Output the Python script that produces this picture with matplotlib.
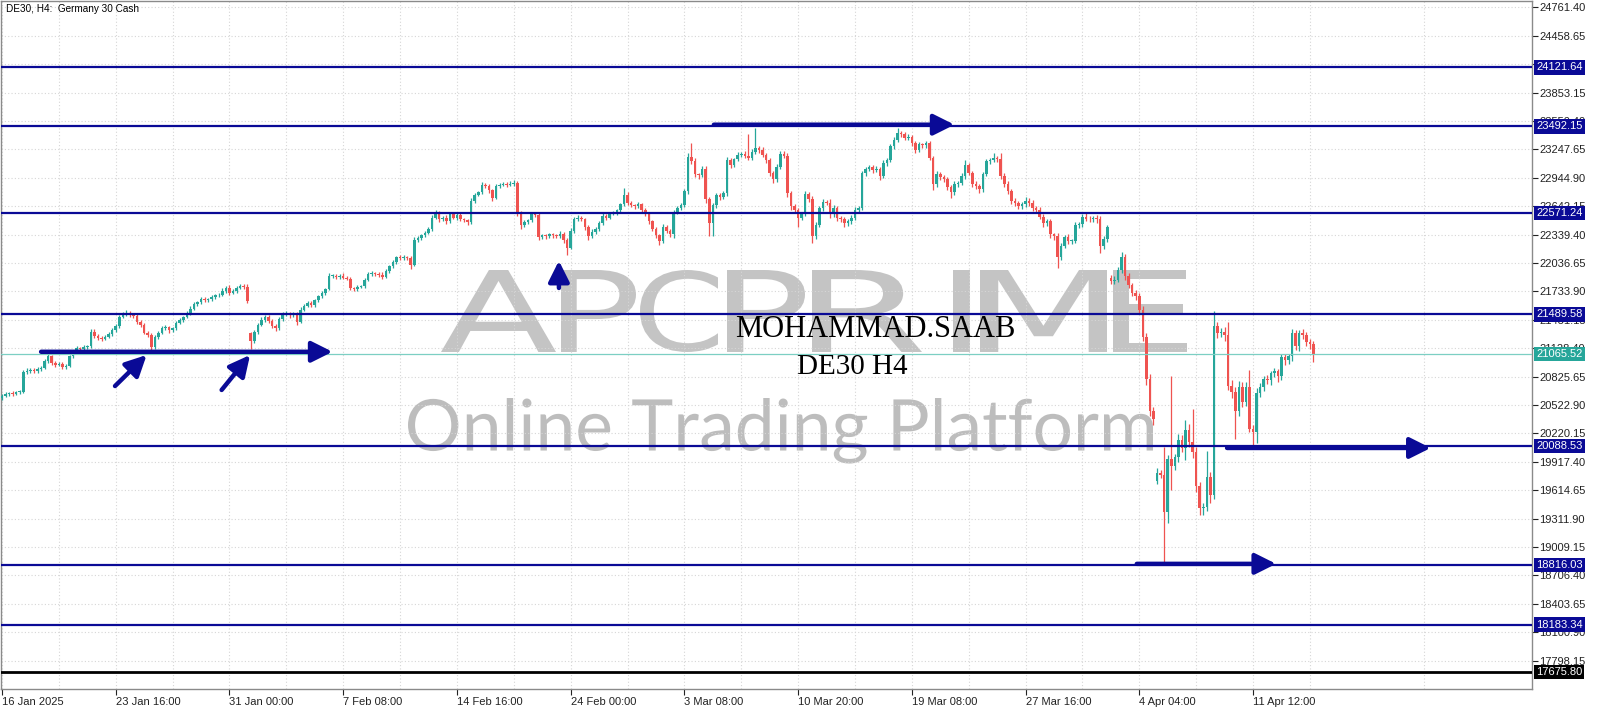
"""
DE30 H4 candle chart with support / resistance levels.
"""
import numpy as np
import matplotlib.pyplot as plt
from matplotlib.font_manager import FontProperties
from matplotlib.patches import PathPatch
from matplotlib.textpath import TextPath
from matplotlib.transforms import Affine2D, blended_transform_factory

# ---- values (H4 bars, 16 Jan - 16 Apr 2025) ----
first_open = 20600
closes = [
    20620, 20640, 20650, 20640, 20660, 20665, 20870, 20890, 20900, 20880,
    20910, 20920, 20990, 21040, 20975, 20950, 20960, 20930, 20940, 21040,
    21080, 21130, 21120, 21140, 21150, 21305, 21260, 21240, 21230, 21250,
    21280, 21320, 21360, 21460, 21490, 21500, 21490, 21470, 21410, 21380,
    21295, 21270, 21140, 21250, 21290, 21340, 21350, 21320, 21340, 21400,
    21430, 21460, 21500, 21550, 21600, 21620, 21650, 21640, 21650, 21670,
    21690, 21700, 21740, 21770, 21720, 21740, 21770, 21790, 21780, 21630,
    21200, 21300, 21380, 21430, 21460, 21420, 21370, 21340, 21440, 21490,
    21500, 21480, 21490, 21410, 21540, 21580, 21610, 21590, 21640, 21680,
    21720, 21760, 21900, 21900, 21890, 21900, 21880, 21870, 21770, 21760,
    21780, 21790, 21860, 21920, 21930, 21920, 21910, 21890, 21950, 22000,
    22050, 22100, 22090, 22100, 22090, 22020, 22280, 22300, 22330, 22360,
    22400, 22520, 22570, 22500, 22520, 22480, 22560, 22520, 22550, 22500,
    22490, 22470, 22700, 22760, 22790, 22870, 22860, 22810, 22730, 22860,
    22870, 22880, 22870, 22880, 22890, 22570, 22440, 22470, 22490, 22560,
    22550, 22310, 22330, 22320, 22340, 22330, 22320, 22350, 22280, 22200,
    22380, 22510, 22520, 22500, 22420, 22320, 22370, 22400, 22460, 22540,
    22520, 22560, 22570, 22600, 22660, 22760, 22680, 22650, 22640, 22660,
    22600, 22560, 22480, 22400, 22330, 22270, 22420, 22380, 22340, 22580,
    22620, 22650, 22800, 23170, 23120, 22980, 22970, 23040, 22720, 22460,
    22650, 22760, 22740, 22780, 23130, 23080, 23140, 23190, 23200, 23180,
    23160, 23220, 23260, 23240, 23190, 23130, 23000, 22930, 23060, 23200,
    23180, 22780, 22640, 22600, 22520, 22560, 22770, 22720, 22320, 22440,
    22620, 22690, 22680, 22560, 22620, 22520, 22500, 22460, 22480, 22520,
    22600, 22620, 22990, 23040, 23060, 23030, 23040, 22960, 23100, 23130,
    23280, 23350, 23420, 23410, 23370, 23380, 23310, 23240, 23300, 23290,
    23310, 23160, 22880, 22980, 22950, 22930, 22850, 22790, 22880, 22890,
    22960, 23080, 23000, 22880, 22860, 22820, 22980, 23120, 23130, 23150,
    23140, 22960, 22880, 22800, 22700, 22680, 22640, 22660, 22700, 22680,
    22620, 22600, 22530, 22460, 22480, 22340, 22320, 22100, 22220, 22310,
    22270, 22270, 22440, 22450, 22530, 22510, 22500, 22520, 22500, 22220,
    22290, 22420, 21840, 21860, 21960, 22100, 21900, 21800, 21720, 21680,
    21540, 21250, 20800, 20460, 20370, 19800, 19780, 19380, 19950, 19870,
    19965, 20155, 20060, 20260, 20130, 20020, 19660, 19420, 19440, 19760,
    19560, 21360, 21290, 21300, 21270, 20730, 20660, 20460, 20720, 20560,
    20720, 20270, 20240, 20650, 20720, 20800, 20790, 20860, 20880, 20830,
    21030, 21000, 21040, 21290, 21150, 21290, 21270, 21190, 21170, 21066,
]
# bars that opened away from the previous close (weekend gaps)
gap_opens = {70: 21290, 312: 21880, 325: 19710}
# wick lengths above / below the body, in points
wick_up = [
    20, 25, 15, 20, 15, 20, 30, 25, 20, 15,
    20, 15, 25, 30, 20, 15, 20, 25, 15, 20,
    25, 20, 15, 20, 15, 30, 25, 20, 15, 20,
    20, 25, 30, 20, 25, 30, 20, 15, 25, 20,
    20, 15, 25, 20, 25, 20, 25, 20, 15, 20,
    20, 15, 20, 25, 20, 15, 20, 25, 15, 20,
    20, 15, 25, 20, 30, 15, 20, 25, 20, 30,
    10, 25, 20, 30, 20, 25, 20, 15, 25, 20,
    20, 15, 25, 20, 30, 20, 25, 20, 15, 20,
    20, 15, 30, 20, 15, 20, 25, 20, 20, 15,
    20, 15, 20, 25, 20, 15, 20, 25, 20, 20,
    20, 15, 25, 20, 15, 25, 30, 20, 15, 20,
    20, 25, 30, 20, 15, 25, 20, 20, 15, 20,
    20, 15, 30, 20, 15, 25, 20, 20, 15, 20,
    20, 15, 20, 25, 35, 20, 25, 20, 15, 20,
    20, 25, 20, 15, 20, 15, 20, 25, 20, 20,
    25, 20, 30, 20, 15, 20, 25, 20, 20, 25,
    20, 25, 20, 15, 20, 80, 30, 20, 15, 25,
    20, 25, 20, 15, 20, 20, 30, 25, 20, 25,
    20, 25, 30, 40, 145, 30, 20, 25, 30, 20,
    30, 25, 20, 25, 40, 30, 20, 25, 20, 30,
    235, 30, 215, 25, 30, 20, 25, 20, 30, 25,
    30, 25, 20, 25, 20, 25, 30, 20, 25, 30,
    25, 30, 20, 40, 30, 25, 20, 30, 20, 25,
    30, 25, 30, 20, 25, 20, 25, 20, 30, 25,
    25, 30, 57, 20, 25, 30, 20, 25, 30, 20,
    25, 30, 20, 35, 25, 20, 25, 20, 30, 25,
    30, 55, 25, 20, 25, 20, 30, 25, 20, 60,
    25, 70, 30, 25, 20, 25, 20, 30, 40, 25,
    25, 20, 30, 25, 30, 25, 20, 35, 30, 25,
    30, 25, 30, 20, 25, 40, 25, 20, 30, 40,
    30, 25, 30, 40, 30, 50, 35, 30, 25, 30,
    35, 40, 45, 50, 40, 50, 30, 300, 40, 880,
    40, 60, 50, 100, 60, 345, 50, 40, 40, 270,
    50, 160, 50, 40, 50, 140, 60, 50, 60, 50,
    50, 180, 40, 50, 40, 35, 40, 30, 40, 30,
    40, 35, 30, 40, 35, 30, 40, 30, 35, 30,
]
wick_dn = [
    20, 15, 20, 25, 15, 20, 15, 20, 25, 15,
    15, 20, 15, 20, 25, 20, 15, 25, 20, 15,
    20, 15, 25, 15, 20, 15, 20, 25, 20, 15,
    15, 20, 15, 20, 15, 20, 25, 20, 20, 25,
    20, 25, 30, 15, 20, 15, 20, 25, 20, 15,
    15, 20, 15, 20, 15, 20, 20, 15, 20, 15,
    15, 20, 15, 20, 20, 15, 20, 15, 20, 25,
    85, 15, 20, 15, 20, 20, 25, 30, 15, 20,
    20, 25, 20, 30, 15, 20, 15, 25, 20, 15,
    15, 20, 15, 20, 25, 20, 15, 20, 25, 20,
    20, 15, 20, 15, 20, 25, 20, 25, 15, 20,
    15, 20, 25, 20, 20, 50, 15, 20, 20, 15,
    15, 20, 15, 25, 20, 25, 15, 20, 25, 20,
    20, 25, 15, 20, 15, 20, 20, 25, 30, 15,
    20, 15, 20, 15, 20, 30, 40, 20, 15, 20,
    20, 30, 20, 25, 20, 25, 20, 15, 30, 75,
    15, 20, 25, 20, 30, 35, 20, 25, 20, 15,
    25, 20, 15, 20, 15, 20, 25, 20, 25, 20,
    20, 25, 30, 25, 30, 40, 20, 25, 30, 35,
    20, 15, 20, 30, 25, 30, 40, 20, 40, 140,
    140, 25, 30, 20, 25, 30, 20, 20, 25, 20,
    30, 25, 20, 30, 25, 30, 35, 40, 30, 20,
    30, 40, 35, 30, 96, 30, 25, 30, 67, 30,
    25, 30, 25, 40, 30, 35, 30, 40, 30, 25,
    30, 35, 20, 25, 20, 30, 25, 40, 20, 25,
    20, 25, 20, 30, 25, 20, 30, 35, 25, 30,
    25, 30, 63, 30, 25, 30, 35, 57, 25, 30,
    25, 30, 25, 35, 30, 40, 25, 20, 25, 20,
    25, 30, 35, 30, 40, 35, 30, 25, 30, 35,
    30, 35, 30, 40, 30, 35, 40, 113, 30, 25,
    35, 30, 25, 30, 25, 30, 25, 30, 35, 73,
    30, 25, 30, 25, 30, 35, 40, 35, 40, 35,
    40, 50, 60, 55, 60, 30, 40, 550, 110, 250,
    40, 50, 40, 120, 50, 60, 60, 70, 70, 50,
    80, 40, 50, 40, 60, 50, 60, 300, 50, 60,
    50, 40, 140, 120, 40, 50, 40, 50, 40, 60,
    40, 50, 40, 50, 40, 50, 40, 40, 50, 90,
]

levels = [24121.64, 23492.15, 22571.24, 21489.58, 20088.53, 18816.03, 18183.34]
current_price = 21065.52
floor_level = 17675.80

ytick_values = [24761.40, 24458.65, 24155.90, 23853.15, 23550.40, 23247.65,
                22944.90, 22642.15, 22339.40, 22036.65, 21733.90, 21431.15,
                21128.40, 20825.65, 20522.90, 20220.15, 19917.40, 19614.65,
                19311.90, 19009.15, 18706.40, 18403.65, 18100.90, 17798.15]
xtick_bars = [0, 32, 64, 96, 128, 160, 192, 224, 256, 288, 320, 352]
xtick_labels = ['16 Jan 2025', '23 Jan 16:00', '31 Jan 00:00', '7 Feb 08:00',
                '14 Feb 16:00', '24 Feb 00:00', '3 Mar 08:00', '10 Mar 20:00',
                '19 Mar 08:00', '27 Mar 16:00', '4 Apr 04:00', '11 Apr 12:00']

# hand drawn arrows: (bar from, price from, bar to, price to)
arrows = [
    (11.0, 21090, 93.0, 21090),
    (31.8, 20725, 40.7, 21056),
    (61.8, 20683, 69.8, 21056),
    (156.7, 21770, 156.7, 22060),
    (200.3, 23510, 268.0, 23510),
    (344.7, 20065, 402.0, 20065),
    (319.3, 18830, 358.5, 18830),
]

GREEN = '#26a69a'
RED = '#ef5350'
NAVY = '#0a0a96'
W, H = 1600, 711

fig = plt.figure(figsize=(W / 100, H / 100), dpi=100)
ax = fig.add_axes([1 / W, 22 / H, 1531 / W, 688 / H])
ax.set_xlim(-0.28, 430.5)
ax.set_ylim(17496.3, 24828.3)

# ---- watermark ----
def stamp(text, box, font, color):
    """Stretch a text outline into a pixel box (x0, y0, x1, y1 from top-left)."""
    x0, y0, x1, y1 = box
    tp = TextPath((0, 0), text, size=100, prop=font)
    bb = tp.get_extents()
    tr = (Affine2D().translate(-bb.x0, -bb.y0)
          .scale((x1 - x0) / bb.width, (y1 - y0) / bb.height)
          .translate(x0, H - y1))
    ax.add_patch(PathPatch(tp, transform=tr, fc=color, ec='none',
                           zorder=1, clip_on=False))


logo_font = FontProperties(family='DejaVu Sans')
logo_boxes = [('A', 441, 556), ('P', 561, 636), ('C', 640, 718), ('P', 727, 805),
              ('R', 812, 922), ('I', 953, 970), ('M', 980, 1107), ('E', 1113, 1187)]
for letter, lx0, lx1 in logo_boxes:
    stamp(letter, (lx0, 270, lx1, 352), logo_font, '#c4c4c4')

sub_font = FontProperties(family='Lato')
tp = TextPath((0, 0), 'Online Trading Platform', size=100, prop=sub_font)
bb = tp.get_extents()
s = 745 / bb.width
tr = (Affine2D().translate(-bb.x0, -bb.y0).scale(s)
      .translate(408, H - 398 - bb.height * s))
ax.add_patch(PathPatch(tp, transform=tr, fc='#bdbdbd', ec='none',
                       zorder=1, clip_on=False))

# ---- grid ----
ax.set_yticks(ytick_values)
ax.set_yticklabels(['%.2f' % v for v in ytick_values])
ax.set_xticks(xtick_bars)
ax.set_xticklabels(xtick_labels, ha='left')
ax.set_xticks(np.arange(16, 430, 32), minor=True)
ax.grid(True, which='both', color='#d6d6d6', linestyle=(0, (1, 2)), lw=0.8, zorder=0)

# ---- levels ----
for lv in levels:
    ax.axhline(lv, color=NAVY, lw=1.6, zorder=4)
ax.axhline(current_price, color='#7ccfc3', lw=0.9, zorder=4)
ax.axhline(floor_level, color='black', lw=2.0, zorder=4)

# ---- candles ----
n = len(closes)
xs = np.arange(n)
c = np.array(closes, dtype=float)
o = np.array([first_open] + closes[:-1], dtype=float)
for i, v in gap_opens.items():
    o[i] = v
top = np.maximum(o, c)
bot = np.minimum(o, c)
highs = top + np.array(wick_up)
lows = bot - np.array(wick_dn)
cols = np.where(c >= o, GREEN, RED)
ax.vlines(xs, lows, highs, colors=cols, lw=0.9, zorder=3)
ax.bar(xs, np.maximum(top - bot, 8), bottom=bot, width=0.72, color=cols,
       linewidth=0, zorder=3)

# ---- arrows ----
for x0, y0, x1, y1 in arrows:
    ax.annotate('', xy=(x1, y1), xytext=(x0, y0), zorder=6,
                arrowprops=dict(arrowstyle='-|>,head_length=0.9,head_width=0.45',
                                color=NAVY, lw=3.2, mutation_scale=14,
                                shrinkA=0, shrinkB=0))

# ---- texts ----
ax.text(0.003, 0.995, 'DE30, H4:  Germany 30 Cash', transform=ax.transAxes,
        ha='left', va='top', fontsize=7.2, family='Liberation Sans', zorder=7)
fig.text(875 / W, 1 - 329 / H, 'MOHAMMAD.SAAB', ha='center', va='center',
         fontsize=22, family='Liberation Serif', color='black')
fig.text(852 / W, 1 - 367 / H, 'DE30 H4', ha='center', va='center',
         fontsize=21, family='Liberation Serif', color='black')

# ---- axes style ----
ax.yaxis.tick_right()
ax.tick_params(axis='y', which='major', direction='out', length=4, pad=1,
               labelsize=8, colors='#222222')
ax.tick_params(axis='x', which='major', direction='out', length=4, pad=2,
               labelsize=8, colors='#222222')
ax.tick_params(axis='x', which='minor', length=0)
for lab in ax.get_xticklabels() + ax.get_yticklabels():
    lab.set_family('Liberation Sans')
for sp in ax.spines.values():
    sp.set_color('#8a8a8a')
    sp.set_linewidth(1.0)

# price tags on the right axis
tag_tr = blended_transform_factory(ax.transAxes, ax.transData)
tags = [(lv, NAVY) for lv in levels] + [(current_price, GREEN), (floor_level, 'black')]
for value, bg in tags:
    ax.text(1 + 4 / 1531, value, '%.2f' % value, transform=tag_tr, ha='left',
            va='center', fontsize=8, family='Liberation Sans', color='white',
            bbox=dict(boxstyle='square,pad=0.2', fc=bg, ec='none'),
            zorder=10, clip_on=False)

fig.savefig('out.png', dpi=100)
